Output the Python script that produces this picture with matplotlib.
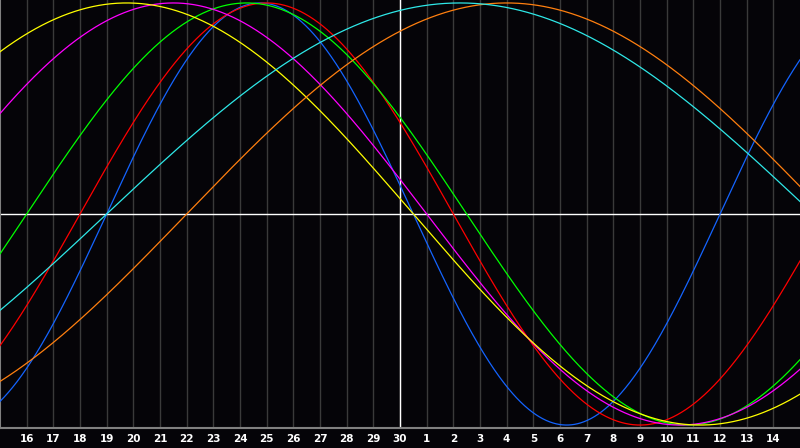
import numpy as np
import matplotlib
matplotlib.use("Agg")
import matplotlib.pyplot as plt

# day labels along the bottom (index 1..29), index 0 = the 15th, index 15 = today (30)
day_labels = ["16", "17", "18", "19", "20", "21", "22", "23", "24", "25", "26", "27", "28", "29", "30",
              "1", "2", "3", "4", "5", "6", "7", "8", "9", "10", "11", "12", "13", "14"]
today_index = 15

# cycles: name, period in days, index where the curve crosses zero going up
cycle_names = ["physical", "emotional", "intellectual", "intuitive", "aesthetic", "awareness", "spiritual"]
cycle_periods = [23, 28, 33, 38, 43, 48, 53]
cycle_upcross = [4, 3, 1, -3, -6, 7, 4]
cycle_colors = ["#1464ff", "#ff0000", "#00ff00", "#ff00ff", "#ffff00", "#ff7f0f", "#2ee8e8"]

bg = "#050408"
grid_col = "#3a3a3a"

fig = plt.figure(figsize=(8, 4.48), dpi=100, facecolor=bg)
ax = fig.add_axes([0, 20 / 448, 1, 428 / 448])
ax.set_facecolor(bg)

n_days = len(day_labels) + 1
ax.set_xlim(0, n_days)
ax.set_ylim(-1.014, 1.014)

# vertical day grid
for i in range(1, n_days):
    ax.axvline(i, color=grid_col, lw=1.0, zorder=1)

# today line and zero line
ax.axvline(today_index, color="white", lw=1.0, zorder=2)
ax.axhline(0, color="white", lw=1.0, zorder=2)

t = np.linspace(0, n_days, 1601)
for name, p, u, c in zip(cycle_names, cycle_periods, cycle_upcross, cycle_colors):
    ax.plot(t, np.sin(2 * np.pi * (t - u) / p), color=c, lw=0.9, zorder=3, label=name)

for s in ax.spines.values():
    s.set_visible(False)
ax.spines["left"].set_visible(True)
ax.spines["bottom"].set_visible(True)
ax.spines["left"].set_color("#808080")
ax.spines["bottom"].set_color("#808080")
ax.spines["left"].set_linewidth(1.5)
ax.spines["bottom"].set_linewidth(1.5)

ax.set_yticks([])
ax.set_xticks(range(1, n_days))
ax.set_xticklabels(day_labels)
ax.tick_params(axis="x", length=0, pad=4, colors="white", labelsize=7.5)
for lab in ax.get_xticklabels():
    lab.set_fontweight("bold")

fig.savefig("out.png", dpi=100, facecolor=bg)
